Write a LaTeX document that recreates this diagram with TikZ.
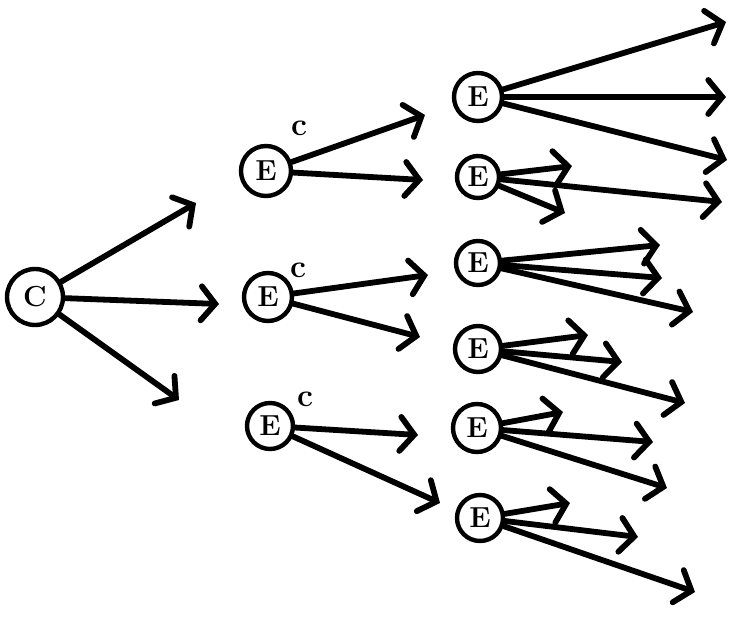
\documentclass[tikz,border=0pt]{standalone}
\usepackage{fontspec}
\setmainfont{Latin Modern Roman}
\usetikzlibrary{arrows.meta}
\begin{document}
\begin{tikzpicture}[x=1pt,y=-1pt,
  state/.style={circle,draw,line width=4.4pt,minimum size=46pt,inner sep=0pt,font=\fontsize{29}{29}\selectfont\bfseries},
  arr/.style={line width=5.8pt,line cap=round,-{Straight Barb[length=14pt,width=34pt,line cap=round]}},
  sup/.style={font=\fontsize{32}{32}\selectfont\bfseries}]
\useasboundingbox (0,0) rectangle (732,621);
% nodes
\node[state,minimum size=56pt] (c) at (35,297) {C};
\node[state,minimum size=50pt] (e1) at (266,171) {E};
\node[state,minimum size=48pt] (e2) at (268,297) {E};
\node[state] (e3) at (270,426) {E};
\node[state,minimum size=48pt] (r1) at (478,97) {E};
\node[state,minimum size=42pt] (r2) at (478,177) {E};
\node[state,minimum size=44pt] (r3) at (478,263) {E};
\node[state] (r4) at (478,349) {E};
\node[state,minimum size=48pt] (r5) at (477,428) {E};
\node[state] (r6) at (480,518) {E};
\node[sup] (s1) at (299,128) {c};
\node[sup] (s2) at (298,270) {c};
\node[sup] (s3) at (305,399) {c};
% tips
\coordinate (c1) at (196,203);
\coordinate (c2) at (219,304);
\coordinate (c3) at (179,400);
\coordinate (e1a) at (425,115);
\coordinate (e1b) at (423,180);
\coordinate (e2a) at (428,275);
\coordinate (e2b) at (420,337);
\coordinate (e3a) at (418,435);
\coordinate (e3b) at (440,503);
\coordinate (r1a) at (726,22);
\coordinate (r1b) at (726,97);
\coordinate (r1c) at (727,160);
\coordinate (r2a) at (572,166);
\coordinate (r2b) at (722,202);
\coordinate (r2c) at (565,213);
\coordinate (r3a) at (660,245);
\coordinate (r3b) at (662,278);
\coordinate (r3c) at (693,312);
\coordinate (r4a) at (588,335);
\coordinate (r4b) at (622,362);
\coordinate (r4c) at (685,403);
\coordinate (r5a) at (563,412);
\coordinate (r5b) at (653,442);
\coordinate (r5c) at (667,488);
\coordinate (r6a) at (570,503);
\coordinate (r6b) at (638,537);
\coordinate (r6c) at (695,592);
% connectors
\foreach \n/\t in {c/c1,c/c2,c/c3,e1/e1a,e1/e1b,e2/e2a,e2/e2b,e3/e3a,e3/e3b,
  r1/r1a,r1/r1b,r1/r1c,r2/r2a,r2/r2b,r2/r2c,r3/r3a,r3/r3b,r3/r3c,
  r4/r4a,r4/r4b,r4/r4c,r5/r5a,r5/r5b,r5/r5c,r6/r6a,r6/r6b,r6/r6c}
  \draw[arr] (\n) -- (\t);
\end{tikzpicture}
\end{document}
